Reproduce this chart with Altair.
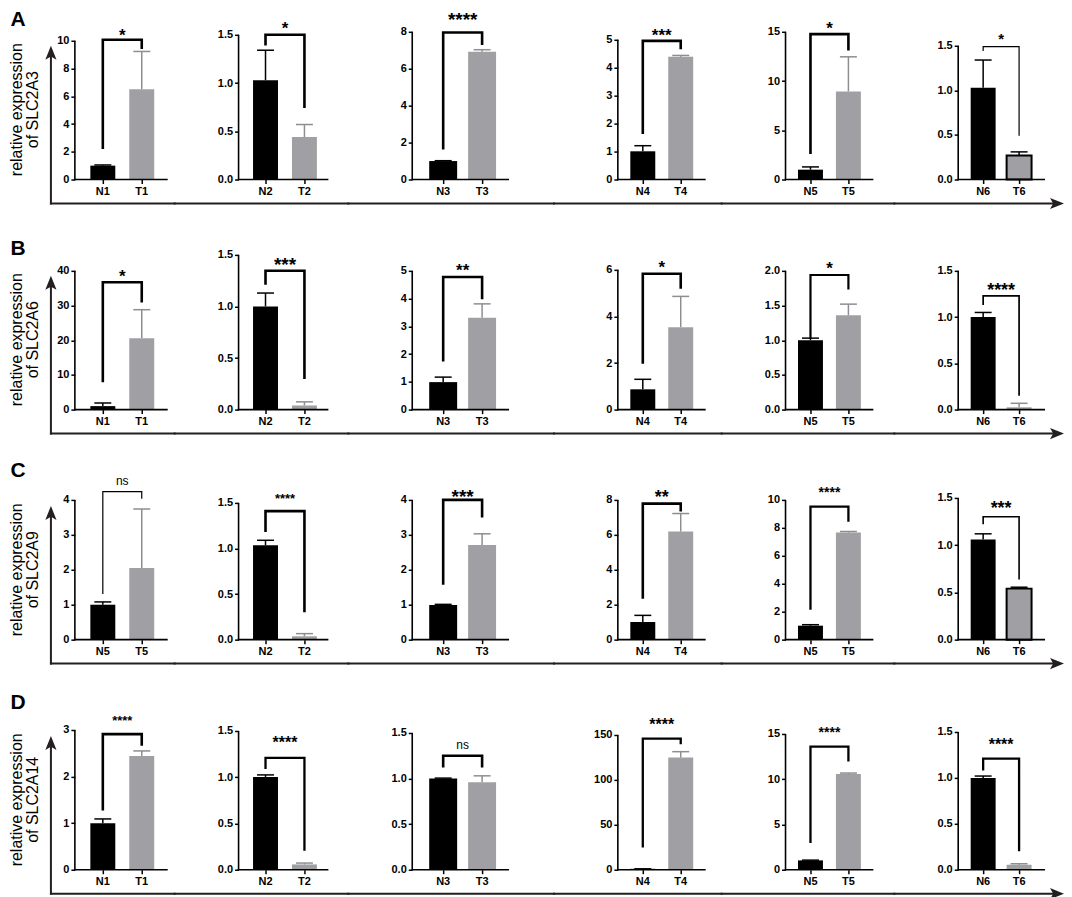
import altair as alt
import pandas as pd

FONT = "Liberation Sans"

# ---------------- data ----------------
ROW_LETTERS = ["A", "B", "C", "D"]
GENES = ["SLC2A3", "SLC2A6", "SLC2A9", "SLC2A14"]

A_pair = [1, 2, 3, 4, 5, 6]
A_n_mean = [1.0, 1.03, 1.0, 1.01, 1.0, 1.03]
A_n_err = [1.05, 1.34, 1.02, 1.21, 1.28, 1.34]
A_t_mean = [6.5, 0.44, 6.92, 4.39, 8.95, 0.27]
A_t_err = [9.23, 0.57, 7.03, 4.44, 12.46, 0.31]
A_sig = ["*", "*", "****", "***", "*", "*"]
A_ymax = [10, 1.5, 8, 5, 15, 1.5]
A_ystep = [2, 0.5, 2, 1, 5, 0.5]
A_br_top = [10.07, 1.5, 7.96, 4.96, 14.76, 1.49]
A_br_n = [2.2, 1.39, 1.62, 1.63, 2.6, 1.44]
A_br_t = [9.4, 0.74, 7.28, 4.66, 13.1, 0.49]
A_sig_y = [10.7, 1.61, 8.92, 5.3, 15.8, 1.62]

B_pair = [1, 2, 3, 4, 5, 6]
B_n_mean = [1.0, 1.0, 0.99, 0.87, 1.0, 1.0]
B_n_err = [1.9, 1.13, 1.17, 1.3, 1.03, 1.05]
B_t_mean = [20.6, 0.04, 3.31, 3.54, 1.36, 0.025]
B_t_err = [28.8, 0.075, 3.81, 4.86, 1.52, 0.068]
B_sig = ["*", "***", "**", "*", "*", "****"]
B_ymax = [40, 1.5, 5, 6, 2.0, 1.5]
B_ystep = [10, 0.5, 1, 2, 0.5, 0.5]
B_br_top = [36.7, 1.346, 4.78, 5.83, 1.94, 1.23]
B_br_n = [7.9, 1.21, 1.73, 1.97, 1.02, 1.13]
B_br_t = [30.9, 0.297, 3.98, 5.19, 1.73, 0.15]
B_sig_y = [39.6, 1.45, 5.15, 6.3, 2.09, 1.34]

C_pair = [5, 2, 3, 4, 5, 6]
C_n_mean = [1.0, 1.036, 0.99, 1.01, 1.0, 1.06]
C_n_err = [1.08, 1.09, 1.01, 1.39, 1.07, 1.12]
C_t_mean = [2.05, 0.037, 2.71, 6.19, 7.66, 0.54]
C_t_err = [3.74, 0.066, 3.03, 7.22, 7.74, 0.555]
C_sig = ["ns", "****", "***", "**", "****", "***"]
C_ymax = [4, 1.5, 4, 8, 10, 1.5]
C_ystep = [1, 0.5, 1, 2, 2, 0.5]
C_br_top = [4.24, 1.41, 4.0, 7.79, 9.52, 1.30]
C_br_n = [1.31, 1.18, 1.57, 2.34, 2.14, 1.22]
C_br_t = [4.03, 0.30, 3.5, 7.33, 8.43, 0.636]
C_sig_y = [4.52, 1.58, 4.24, 8.42, 10.76, 1.43]

D_pair = [1, 2, 3, 4, 5, 6]
D_n_mean = [1.0, 1.003, 1.0, 1.0, 1.03, 1.0]
D_n_err = [1.09, 1.025, 1.005, 1.0, 1.06, 1.02]
D_t_mean = [2.44, 0.057, 0.96, 124.8, 10.57, 0.054]
D_t_err = [2.55, 0.072, 1.03, 131.4, 10.68, 0.065]
D_sig = ["****", "****", "ns", "****", "****", "****"]
D_ymax = [3, 1.5, 1.5, 150, 15, 1.5]
D_ystep = [1, 0.5, 0.5, 50, 5, 0.5]
D_br_top = [2.91, 1.21, 1.25, 145.9, 13.6, 1.21]
D_br_n = [1.27, 1.09, 1.12, 24.8, 2.95, 1.08]
D_br_t = [2.66, 0.205, 1.12, 139.6, 11.97, 0.20]
D_sig_y = [3.27, 1.42, 1.36, 165.5, 15.5, 1.41]

ROWS = [
    dict(pair=A_pair, n_mean=A_n_mean, n_err=A_n_err, t_mean=A_t_mean, t_err=A_t_err, sig=A_sig,
         ymax=A_ymax, ystep=A_ystep, br_top=A_br_top, br_n=A_br_n, br_t=A_br_t, sig_y=A_sig_y),
    dict(pair=B_pair, n_mean=B_n_mean, n_err=B_n_err, t_mean=B_t_mean, t_err=B_t_err, sig=B_sig,
         ymax=B_ymax, ystep=B_ystep, br_top=B_br_top, br_n=B_br_n, br_t=B_br_t, sig_y=B_sig_y),
    dict(pair=C_pair, n_mean=C_n_mean, n_err=C_n_err, t_mean=C_t_mean, t_err=C_t_err, sig=C_sig,
         ymax=C_ymax, ystep=C_ystep, br_top=C_br_top, br_n=C_br_n, br_t=C_br_t, sig_y=C_sig_y),
    dict(pair=D_pair, n_mean=D_n_mean, n_err=D_n_err, t_mean=D_t_mean, t_err=D_t_err, sig=D_sig,
         ymax=D_ymax, ystep=D_ystep, br_top=D_br_top, br_n=D_br_n, br_t=D_br_t, sig_y=D_sig_y),
]

# ---------------- layout / style ----------------
H = 170                      # plot height of every panel (px)
COL_SP = 64                  # column spacing (px)
ROW_SP = 60.5                # row spacing (px)
W0 = 2                       # width of the label column
COL_W = [100, 110, 142, 104, 109, 90]
CN = [28, 27, 31, 25, 25, 25]     # centre of N bar from y axis
CT = [67, 66, 70, 63, 63, 61]     # centre of T bar from y axis
BAR_W = [25, 25, 28, 25, 25, 25]
X_END = [93, 90, 97, 88, 88, 87]  # visible length of x axis line
AXIS_LEN = [
    [139, 145, 148, 140, 148, 134],
    [139, 155, 139, 140, 139, 139],
    [140, 137, 140, 140, 140, 142],
    [140, 139, 137, 135, 136, 138],
]
SIG_SIZE = [
    [17, 17, 19, 17, 17, 15],
    [17, 19, 17, 17, 17, 18],
    [12, 13, 19, 18, 14, 18],
    [13, 16, 12, 16, 14, 16],
]
BRACKET_W = [
    [2.6, 2.6, 2.6, 2.6, 2.6, 1.2],
    [2.6, 2.6, 2.6, 2.6, 2.2, 1.7],
    [1.2, 2.6, 2.6, 2.6, 2.3, 1.6],
    [2.6, 2.3, 2.6, 2.3, 2.3, 2.3],
]
T_OUTLINE = [
    [False] * 5 + [True],
    [False] * 6,
    [False] * 5 + [True],
    [False] * 6,
]
LETTER_X = 1.5
LETTER_Y = [-0.5, -2.0, -10.2, -8.0]
TITLE_X = [8, 24]
LINE_DY = 24                 # big horizontal arrow below baseline
V_TIP = 134                  # vertical arrow tip above baseline
V_X = W0 + COL_SP - 24       # vertical arrow x in the label column
COL1_LINE_START = -25        # start of the horizontal arrow left of column 1
ARROW = "#231f20"
GRAY = "#a0a0a4"
GRAY_ERR = "#8e8e92"
H_TIP = 106                  # right arrow tip, from col-6 axis
LAB_FS = 11

V_HEAD = "M0,-1 L0.8,1 L0,0.55 L-0.8,1 Z"
H_HEAD = "M1,0 L-1,0.8 L-0.55,0 L-1,-0.8 Z"

one = pd.DataFrame({"k": [0]})


def label_panel(r):
    letter = alt.Chart(pd.DataFrame({"t": [ROW_LETTERS[r]]})).mark_text(
        font=FONT, fontSize=21, fontWeight="bold", align="left", baseline="top", color="black"
    ).encode(x=alt.value(LETTER_X), y=alt.value(LETTER_Y[r]), text="t:N")
    t1 = alt.Chart(pd.DataFrame({"t": ["relative expression"]})).mark_text(
        font=FONT, fontSize=16, angle=270, align="center", baseline="middle", color="black"
    ).encode(x=alt.value(TITLE_X[0]), y=alt.value(H - 70), text="t:N")
    t2 = alt.Chart(pd.DataFrame({"t": ["of " + GENES[r]]})).mark_text(
        font=FONT, fontSize=16, angle=270, align="center", baseline="middle", color="black"
    ).encode(x=alt.value(TITLE_X[1]), y=alt.value(H - 70), text="t:N")
    vline = alt.Chart(one).mark_rule(color=ARROW, strokeWidth=2).encode(
        x=alt.value(V_X), y=alt.value(H + LINE_DY + 1), y2=alt.value(H - V_TIP + 8)
    )
    head = alt.Chart(one).mark_point(
        shape=V_HEAD, size=196, filled=True, color=ARROW, opacity=1, strokeWidth=0
    ).encode(x=alt.value(V_X), y=alt.value(H - V_TIP + 7))
    return alt.layer(letter, t1, t2, vline, head).properties(width=W0, height=H)


def panel(r, c):
    d = ROWS[r]
    n_lab = f"N{d['pair'][c]}"
    t_lab = f"T{d['pair'][c]}"
    ymax = d["ymax"][c]
    ystep = d["ystep"][c]
    dmax = ymax * H / AXIS_LEN[r][c]
    W = COL_W[c]
    st = CT[c] - CN[c]
    bw = BAR_W[c]
    pin = 1 - bw / st
    pout = min(1.0, (W / st - 2 + pin) / 2)
    free = W - st * (2 - pin)
    al = max(0.0, min(1.0, (CN[c] - bw / 2) / free))

    xscale = alt.Scale(domain=[n_lab, t_lab], paddingInner=pin, paddingOuter=pout, align=al)
    xaxis = alt.Axis(domain=False, grid=False, tickSize=4, tickWidth=1.5, tickColor="black",
                     labelAngle=0, labelFont=FONT, labelFontWeight="bold", labelFontSize=LAB_FS,
                     labelColor="black", labelPadding=2, title=None)
    n_ticks = int(round(ymax / ystep))
    ticks = [round(i * ystep, 6) for i in range(n_ticks + 1)]
    fmt = ".1f" if ystep < 1 else "d"
    yscale = alt.Scale(domain=[0, dmax], nice=False, zero=False)
    yaxis = alt.Axis(values=ticks, format=fmt, domain=False, grid=False, tickSize=4,
                     tickWidth=1.5, tickColor="black", labelFont=FONT, labelFontWeight="bold",
                     labelFontSize=LAB_FS, labelColor="black", labelPadding=2, title=None,
                     labelFlush=False, labelOverlap=False)

    def X():
        return alt.X("lab:N", scale=xscale, axis=xaxis, title=None)

    def Y(f):
        return alt.Y(f + ":Q", scale=yscale, axis=yaxis, title=None)

    outl = T_OUTLINE[r][c]
    bars_df = pd.DataFrame({
        "lab": [n_lab, t_lab],
        "mean": [d["n_mean"][c], d["t_mean"][c]],
        "err": [d["n_err"][c], d["t_err"][c]],
        "fill": ["#000000", GRAY],
        "stroke": ["#000000", "#000000" if outl else GRAY],
        "sw": [0, 2 if outl else 0],
        "ecol": ["#000000", "#000000" if outl else GRAY_ERR],
    })
    bars = alt.Chart(bars_df).mark_bar(strokeJoin="miter").encode(
        x=X(), y=Y("mean"),
        fill=alt.Fill("fill:N", scale=None),
        stroke=alt.Stroke("stroke:N", scale=None),
        strokeWidth=alt.StrokeWidth("sw:Q", scale=None),
    )
    stems = alt.Chart(bars_df).mark_rule(strokeWidth=1.5).encode(
        x=X(), y=Y("mean"), y2="err", color=alt.Color("ecol:N", scale=None)
    )
    caps = alt.Chart(bars_df).mark_tick(size=17, thickness=1.5, opacity=1).encode(
        x=X(), y=Y("err"), color=alt.Color("ecol:N", scale=None)
    )
    br_df = pd.DataFrame({
        "lab": [n_lab, n_lab, t_lab, t_lab],
        "yv": [d["br_n"][c], d["br_top"][c], d["br_top"][c], d["br_t"][c]],
        "o": [0, 1, 2, 3],
    })
    bracket = alt.Chart(br_df).mark_line(
        color="black", strokeWidth=BRACKET_W[r][c], strokeJoin="miter", strokeCap="butt"
    ).encode(x=X(), y=Y("yv"), order="o:Q")
    txt = d["sig"][c]
    fs = SIG_SIZE[r][c]
    is_ns = txt == "ns"
    dy = -0.04 * fs if is_ns else 0.275 * fs
    sig = alt.Chart(pd.DataFrame({"lab": [n_lab], "yv": [d["sig_y"][c]], "t": [txt]})).mark_text(
        font=FONT, fontSize=fs, fontWeight="normal" if is_ns else "bold",
        dx=st / 2, dy=dy, align="center", baseline="middle", color="black"
    ).encode(x=X(), y=Y("yv"), text="t:N")
    yline = alt.Chart(pd.DataFrame({"y0": [0.0], "y1": [float(ymax)]})).mark_rule(
        strokeWidth=1.6, color="black"
    ).encode(x=alt.value(0), y=Y("y0"), y2="y1")
    base = alt.Chart(one).mark_rule(strokeWidth=1.6, color="black").encode(
        x=alt.value(-0.8), x2=alt.value(X_END[c]), y=alt.value(H)
    )
    x_start = COL1_LINE_START if c == 0 else -COL_SP - 1
    x_stop = H_TIP - 7 if c == 5 else W + 1
    big = alt.Chart(one).mark_rule(strokeWidth=2, color=ARROW).encode(
        x=alt.value(x_start), x2=alt.value(x_stop), y=alt.value(H + LINE_DY)
    )
    layers = [bars, stems, caps, bracket, sig, yline, base, big]
    if c == 5:
        head = alt.Chart(one).mark_point(
            shape=H_HEAD, size=196, filled=True, color=ARROW, opacity=1, strokeWidth=0
        ).encode(x=alt.value(H_TIP - 7), y=alt.value(H + LINE_DY))
        layers.append(head)
    return alt.layer(*layers).properties(width=W, height=H)


charts = []
for r in range(4):
    charts.append(label_panel(r))
    for c in range(6):
        charts.append(panel(r, c))

chart = alt.concat(
    *charts, columns=7, spacing={"row": ROW_SP, "column": COL_SP}, bounds="flush"
).properties(padding=0).configure_view(strokeWidth=0)

chart.save("out.html", embed_options={"renderer": "svg", "actions": False})
